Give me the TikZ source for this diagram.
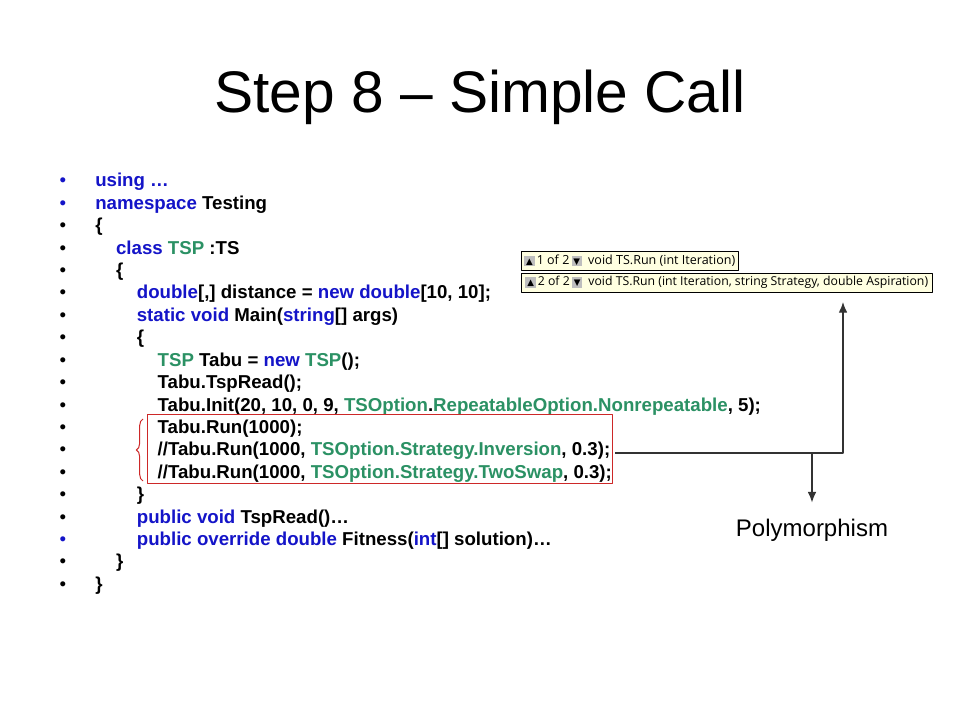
\documentclass[tikz,border=0pt]{standalone}
\usepackage{fontspec}
\setmainfont{Liberation Sans}
\newfontfamily\tipfont{Open Sans}
\newfontfamily\symfont{DejaVu Sans}
\usetikzlibrary{decorations.pathreplacing,arrows.meta}
\definecolor{kwblue}{RGB}{20,20,200}
\definecolor{tygreen}{RGB}{43,145,100}
\definecolor{selred}{RGB}{205,40,40}
\definecolor{tipfill}{RGB}{255,255,225}
\definecolor{btngray}{RGB}{190,190,190}
\newcommand{\kwd}[1]{\textcolor{kwblue}{#1}}
\newcommand{\typ}[1]{\textcolor{tygreen}{#1}}
\newcommand{\tipbtn}[1]{{\setlength{\fboxsep}{0.4pt}\colorbox{btngray}{\rule[-0.8pt]{0pt}{7.2pt}\makebox[7pt]{\symfont\fontsize{6.5}{6.5}\selectfont#1}}}}
\begin{document}
\begin{tikzpicture}[x=0.75pt,y=-0.75pt,line join=round,>={Latex[length=8pt,width=6.5pt]}]
	\tikzset{every node/.style={inner sep=0pt},
		code/.style={anchor=base west,font=\bfseries\fontsize{14}{16.8}\selectfont},
		bul/.style={anchor=base,font=\fontsize{14}{16.8}\selectfont},
		tip/.style={draw,fill=tipfill,anchor=north west,minimum height=14.25pt,inner xsep=1.5pt,font=\tipfont\fontsize{9.4}{11}\selectfont},
		conn/.style={line width=1pt,draw=black!80}}
	\useasboundingbox[fill=white] (0,0) rectangle (960,720);
	\node[anchor=base,font=\fontsize{44}{52.8}\selectfont] (ttl) at (480,113) {Step 8 – Simple Call};
	\foreach \n/\lv/\bc/\txt in {
		1/0/kwblue/{\kwd{using …}},
		2/0/kwblue/{\kwd{namespace} Testing},
		3/0/black/{\{},
		4/1/black/{\kwd{class} \typ{TSP} :TS},
		5/1/black/{\{},
		6/2/black/{\kwd{double}[,] distance = \kwd{new double}[10, 10];},
		7/2/black/{\kwd{static void} Main(\kwd{string}[] args)},
		8/2/black/{\{},
		9/3/black/{\typ{TSP} Tabu = \kwd{new} \typ{TSP}();},
		10/3/black/{Tabu.TspRead();},
		11/3/black/{Tabu.Init(20, 10, 0, 9, \typ{TSOption}.\typ{RepeatableOption.Nonrepeatable}, 5);},
		12/3/black/{Tabu.Run(1000);},
		13/3/black/{//Tabu.Run(1000, \typ{TSOption.Strategy.Inversion}, 0.3);},
		14/3/black/{//Tabu.Run(1000, \typ{TSOption.Strategy.TwoSwap}, 0.3);},
		15/2/black/{\}},
		16/2/black/{\kwd{public void} TspRead()…},
		17/2/kwblue/{\kwd{public override double} Fitness(\kwd{int}[] solution)…},
		18/1/black/{\}},
		19/0/black/{\}}}
	{
		\node[bul,text=\bc] (b\n) at (63,{187+22.4*(\n-1)}) {•};
		\node[code] (l\n) at ({95+20.8*\lv},{187+22.4*(\n-1)}) {\txt};
	}
	\node[draw=selred,line width=0.75pt,anchor=north west,minimum width=348.75pt,minimum height=51.75pt] (sel) at (147,414) {};
	\draw[selred,line width=0.75pt,decorate,decoration={brace,amplitude=5pt}] (143,481) -- (143,419);
	\node[tip,minimum width=162.75pt] (tip1) at (521,251) {\tipbtn{▲}\,1 of 2\,\tipbtn{▼}\enspace void TS.Run (int Iteration)};
	\node[tip,minimum width=308.25pt,font=\tipfont\fontsize{9.2}{11}\selectfont] (tip2) at (521,273) {\tipbtn{▲}\,2 of 2\,\tipbtn{▼}\enspace void TS.Run (int Iteration, string Strategy, double Aspiration)};
	\node[font=\fontsize{18}{21.6}\selectfont] (poly) at (812,530) {Polymorphism};
	\coordinate (src) at (615,453);
	\coordinate (up) at (843,292);
	\draw[conn,->,shorten >=7.5pt] (src) -| (up);
	\draw[conn,->,shorten >=12pt] (src -| poly) -- (poly);
\end{tikzpicture}
\end{document}
